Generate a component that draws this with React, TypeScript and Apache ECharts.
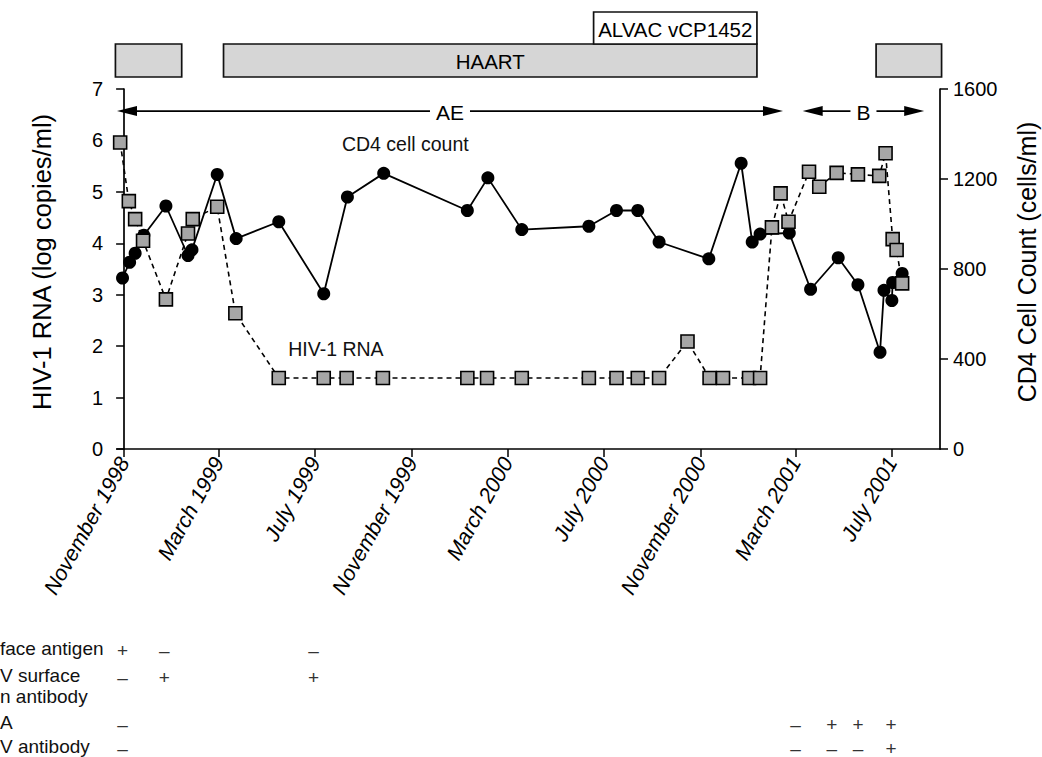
import React, { useEffect, useRef } from "react";
import * as echarts from "echarts";

// ---------- data ----------
const ORIGIN_DATE = "1998-11-01";
const X_START_DATE = "1998-10-23";
const X_END_DATE = "2001-08-31";

const TICK_DATES = ["1998-11-01", "1999-03-01", "1999-07-01", "1999-11-01", "2000-03-01", "2000-07-01", "2000-11-01", "2001-03-01", "2001-07-01"];
const TICK_LABELS = ["November 1998", "March 1999", "July 1999", "November 1999", "March 2000", "July 2000", "November 2000", "March 2001", "July 2001"];

const RNA_TICKS = [0, 1, 2, 3, 4, 5, 6, 7];
const CD4_TICKS = [0, 400, 800, 1200, 1600];

const CD4_DATES = ["1998-10-30", "1998-11-08", "1998-11-15", "1998-11-26", "1998-12-24", "1999-01-21", "1999-01-26", "1999-02-27", "1999-03-23", "1999-05-16", "1999-07-12", "1999-08-11", "1999-09-26", "2000-01-10", "2000-02-05", "2000-03-19", "2000-06-12", "2000-07-17", "2000-08-13", "2000-09-09", "2000-11-11", "2000-12-22", "2001-01-05", "2001-01-15", "2001-02-21", "2001-03-20", "2001-04-24", "2001-05-19", "2001-06-16", "2001-06-21", "2001-07-01", "2001-07-02", "2001-07-14"];
const CD4_VALUES = [760, 830, 870, 950, 1080, 860, 885, 1220, 935, 1010, 690, 1120, 1225, 1060, 1205, 975, 990, 1060, 1060, 920, 845, 1270, 920, 955, 960, 710, 850, 730, 430, 705, 660, 740, 780];

const RNA_DATES = ["1998-10-27", "1998-11-07", "1998-11-15", "1998-11-25", "1998-12-24", "1999-01-21", "1999-01-27", "1999-02-27", "1999-03-22", "1999-05-16", "1999-07-12", "1999-08-10", "1999-09-25", "2000-01-10", "2000-02-04", "2000-03-19", "2000-06-12", "2000-07-17", "2000-08-13", "2000-09-09", "2000-10-15", "2000-11-12", "2000-11-29", "2001-01-01", "2001-01-15", "2001-01-30", "2001-02-10", "2001-02-20", "2001-03-18", "2001-03-31", "2001-04-22", "2001-05-19", "2001-06-15", "2001-06-23", "2001-07-02", "2001-07-07", "2001-07-14"];
const RNA_VALUES = [5.96, 4.82, 4.47, 4.05, 2.91, 4.19, 4.47, 4.71, 2.64, 1.38, 1.38, 1.38, 1.38, 1.38, 1.38, 1.38, 1.38, 1.38, 1.38, 1.38, 2.09, 1.38, 1.38, 1.38, 1.38, 4.31, 4.97, 4.42, 5.39, 5.10, 5.37, 5.34, 5.31, 5.75, 4.08, 3.87, 3.22];

const THERAPY_STARTS = ["1998-10-21", "1999-03-07", "2001-06-11"];
const THERAPY_ENDS = ["1999-01-13", "2001-01-11", "2001-09-02"];
const THERAPY_LABELS = ["", "HAART", ""];

const VACCINE_START = "2000-06-18";
const VACCINE_END = "2001-01-11";
const VACCINE_LABEL = "ALVAC vCP1452";

const PHASE_STARTS = ["1998-10-23", "2001-03-10"];
const PHASE_ENDS = ["2001-02-13", "2001-08-11"];
const PHASE_LABELS = ["AE", "B"];
const PHASE_LEVEL = 6.57;

const NOTE_TEXTS = ["CD4 cell count", "HIV-1 RNA"];
const NOTE_DATES = ["1999-08-04", "1999-05-28"];
const NOTE_LEVELS = [5.93, 1.94];

const TEST_NAMES = ["face antigen", "V surface\nn antibody", "A", "V antibody"];
const TEST_DATES_HBV = ["1998-10-30", "1998-12-22", "1999-06-29"];
const TEST_DATES_LATE = ["1998-10-30", "2001-03-01", "2001-04-16", "2001-05-19", "2001-06-30"];
const TEST_ROW1 = ["+", "–", "–"];
const TEST_ROW2 = ["–", "+", "+"];
const TEST_ROW3 = ["–", "–", "+", "+", "+"];
const TEST_ROW4 = ["–", "–", "–", "–", "+"];

// ---------- helpers ----------
const dayMs = 86400000;
const parse = (s: string) => {
  const [y, m, d] = s.split("-").map(Number);
  return Date.UTC(y, m - 1, d);
};
const toDay = (s: string) => (parse(s) - parse(ORIGIN_DATE)) / dayMs;

const FONT = "'Liberation Sans', Arial, Helvetica, sans-serif";

export default function App() {
  const ref = useRef<HTMLDivElement>(null);

  useEffect(() => {
    const el = ref.current;
    if (!el) return;
    const chart = echarts.init(el, null, { renderer: "svg" });
    const tickDays = TICK_DATES.map(toDay);

    const axisLineStyle = { color: "#000", width: 1.7 };
    const tickStyle = { color: "#000", width: 1.5 };

    chart.setOption({
      animation: false,
      backgroundColor: "#ffffff",
      grid: { left: 117, right: 102, top: 89, bottom: 308 },
      xAxis: {
        type: "value",
        min: toDay(X_START_DATE),
        max: toDay(X_END_DATE),
        axisLine: { show: true, lineStyle: axisLineStyle },
        axisTick: { show: true, length: 8, lineStyle: tickStyle, customValues: tickDays },
        axisLabel: {
          customValues: tickDays,
          formatter: (v: number) => {
            const i = tickDays.findIndex((t) => Math.abs(t - v) < 0.5);
            return i >= 0 ? TICK_LABELS[i] : "";
          },
          rotate: 61,
          fontStyle: "italic",
          fontSize: 21.5,
          color: "#000",
          fontFamily: FONT,
          margin: 10,
        },
        splitLine: { show: false },
      },
      yAxis: [
        {
          type: "value",
          min: RNA_TICKS[0],
          max: RNA_TICKS[RNA_TICKS.length - 1],
          interval: 1,
          position: "left",
          axisLine: { show: true, lineStyle: axisLineStyle },
          axisTick: { show: true, length: 8, lineStyle: tickStyle },
          axisLabel: { fontSize: 20, color: "#000", fontFamily: FONT, margin: 14, formatter: (v: number) => String(v) },
          splitLine: { show: false },
        },
        {
          type: "value",
          min: CD4_TICKS[0],
          max: CD4_TICKS[CD4_TICKS.length - 1],
          interval: 400,
          position: "right",
          axisLine: { show: true, lineStyle: axisLineStyle },
          axisTick: { show: true, length: 8, lineStyle: tickStyle },
          axisLabel: { fontSize: 20, color: "#000", fontFamily: FONT, margin: 13, formatter: (v: number) => String(v) },
          splitLine: { show: false },
        },
      ],
      series: [
        {
          type: "line",
          name: "CD4 cell count",
          yAxisIndex: 1,
          data: CD4_DATES.map((d, i) => [toDay(d), CD4_VALUES[i]]),
          symbol: "circle",
          symbolSize: 13,
          itemStyle: { color: "#000" },
          lineStyle: { color: "#000", width: 1.8 },
          z: 2,
        },
        {
          type: "line",
          name: "HIV-1 RNA",
          yAxisIndex: 0,
          data: RNA_DATES.map((d, i) => [toDay(d), RNA_VALUES[i]]),
          symbol: "rect",
          symbolSize: 13,
          itemStyle: { color: "#a6a6a6", borderColor: "#000", borderWidth: 1.6 },
          lineStyle: { color: "#000", width: 1.6, type: [5, 4] },
          z: 3,
        },
      ],
    });

    const X = (d: string) => chart.convertToPixel({ xAxisIndex: 0 }, toDay(d)) as number;
    const YL = (v: number) => chart.convertToPixel({ yAxisIndex: 0 }, v) as number;

    const graphics: any[] = [];
    const barTop = 44;
    const barH = 33;

    // therapy bars
    THERAPY_STARTS.forEach((s, i) => {
      const x0 = X(s);
      const x1 = X(THERAPY_ENDS[i]);
      graphics.push({
        type: "rect",
        shape: { x: x0, y: barTop, width: x1 - x0, height: barH },
        style: { fill: "#d6d6d6", stroke: "#111", lineWidth: 1.7 },
      });
      if (THERAPY_LABELS[i]) {
        graphics.push({
          type: "text",
          x: (x0 + x1) / 2,
          y: barTop + barH / 2 + 1,
          style: { text: THERAPY_LABELS[i], fill: "#000", fontSize: 20.5, fontFamily: FONT, align: "center", verticalAlign: "middle" },
        });
      }
    });

    // vaccine box
    {
      const x0 = X(VACCINE_START);
      const x1 = X(VACCINE_END);
      graphics.push({
        type: "rect",
        shape: { x: x0, y: 12, width: x1 - x0, height: barTop - 12 },
        style: { fill: "#fff", stroke: "#111", lineWidth: 1.7 },
      });
      graphics.push({
        type: "text",
        x: (x0 + x1) / 2,
        y: (12 + barTop) / 2 + 1,
        style: { text: VACCINE_LABEL, fill: "#000", fontSize: 20.5, fontFamily: FONT, align: "center", verticalAlign: "middle" },
      });
    }

    // phase arrows
    const ay = YL(PHASE_LEVEL);
    PHASE_STARTS.forEach((s, i) => {
      const x0 = X(s);
      const x1 = X(PHASE_ENDS[i]);
      graphics.push({ type: "line", shape: { x1: x0 + 10, y1: ay, x2: x1 - 10, y2: ay }, style: { stroke: "#000", lineWidth: 1.6 } });
      graphics.push({ type: "polygon", shape: { points: [[x0, ay], [x0 + 20, ay - 5], [x0 + 20, ay + 5]] }, style: { fill: "#000" } });
      graphics.push({ type: "polygon", shape: { points: [[x1, ay], [x1 - 20, ay - 5], [x1 - 20, ay + 5]] }, style: { fill: "#000" } });
      graphics.push({
        type: "text",
        x: (x0 + x1) / 2,
        y: ay + 1,
        style: {
          text: PHASE_LABELS[i], fill: "#000", fontSize: 21, fontFamily: FONT, align: "center", verticalAlign: "middle",
          backgroundColor: "#fff", padding: [0, 6, 0, 6],
        },
      });
    });

    // series notes
    NOTE_TEXTS.forEach((t, i) => {
      graphics.push({
        type: "text",
        x: X(NOTE_DATES[i]),
        y: YL(NOTE_LEVELS[i]),
        style: { text: t, fill: "#111", fontSize: 19.5, fontFamily: FONT, align: "left", verticalAlign: "middle" },
      });
    });

    // axis titles
    graphics.push({
      type: "text",
      x: 42,
      y: 262,
      rotation: Math.PI / 2,
      style: { text: "HIV-1 RNA (log copies/ml)", fill: "#000", fontSize: 25.5, fontFamily: FONT, align: "center", verticalAlign: "middle" },
    });
    graphics.push({
      type: "text",
      x: 1027,
      y: 262,
      rotation: Math.PI / 2,
      style: { text: "CD4 Cell Count (cells/ml)", fill: "#000", fontSize: 25, fontFamily: FONT, align: "center", verticalAlign: "middle" },
    });

    // serology table
    const rowY = [649, 676, 723, 747];
    TEST_NAMES.forEach((n, i) => {
      graphics.push({
        type: "text",
        x: 0,
        y: rowY[i] - 11,
        style: { text: n, fill: "#111", fontSize: 19, fontFamily: FONT, align: "left", verticalAlign: "top", lineHeight: 21 },
      });
    });
    const signRows: [string[], string[], number][] = [
      [TEST_DATES_HBV, TEST_ROW1, rowY[0]],
      [TEST_DATES_HBV, TEST_ROW2, rowY[1]],
      [TEST_DATES_LATE, TEST_ROW3, rowY[2]],
      [TEST_DATES_LATE, TEST_ROW4, rowY[3]],
    ];
    signRows.forEach(([dates, signs, y]) => {
      dates.forEach((d, j) => {
        graphics.push({
          type: "text",
          x: X(d),
          y: y + 1,
          style: { text: signs[j], fill: "#333", fontSize: 19, fontFamily: FONT, align: "center", verticalAlign: "middle" },
        });
      });
    });

    chart.setOption({ graphic: graphics });

    return () => chart.dispose();
  }, []);

  return (
    <div
      ref={ref}
      style={{ position: "fixed", left: 0, top: 0, width: 1042, height: 757, background: "#fff" }}
    />
  );
}
